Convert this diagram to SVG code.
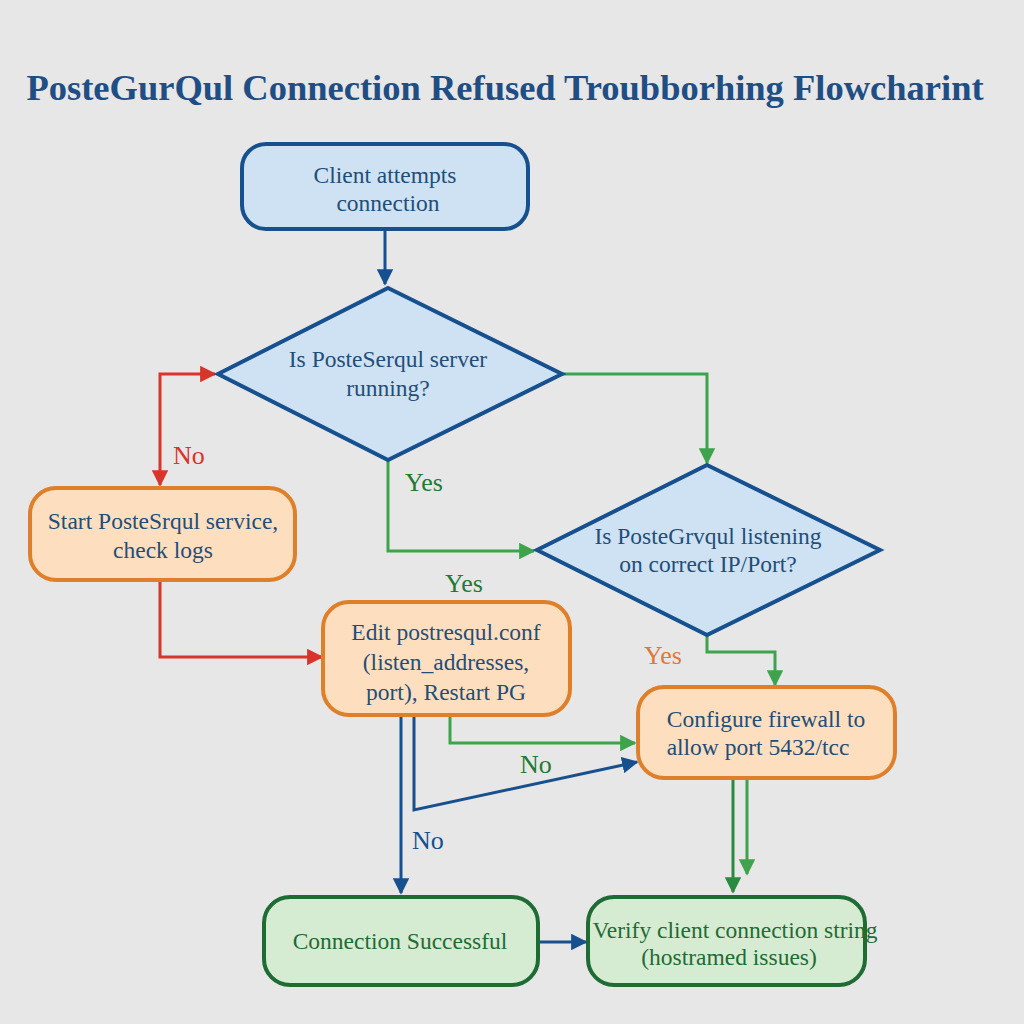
<svg xmlns="http://www.w3.org/2000/svg" width="1024" height="1024" viewBox="0 0 1024 1024">
<defs>
<style>
.t{font-family:"Liberation Serif","Times New Roman",serif;font-size:23.5px;text-anchor:middle;fill:#1f4e79}
.g{fill:#1e6b34}
.lbl{font-family:"Liberation Serif","Times New Roman",serif;font-size:26px}
.blueBox{fill:#cfe2f3;stroke:#16508e;stroke-width:4}
.orBox{fill:#fddfbf;stroke:#e07f2a;stroke-width:4}
.grBox{fill:#d6ecd2;stroke:#1e6b34;stroke-width:4}
.c{fill:none;stroke-width:3}
</style>
<marker id="aB" viewBox="0 0 10 10" refX="9" refY="5" markerWidth="5.5" markerHeight="5.5" orient="auto-start-reverse" markerUnits="strokeWidth"><path d="M0,0L10,5L0,10z" fill="#16508e"/></marker>
<marker id="aR" viewBox="0 0 10 10" refX="9" refY="5" markerWidth="5.5" markerHeight="5.5" orient="auto-start-reverse" markerUnits="strokeWidth"><path d="M0,0L10,5L0,10z" fill="#d9342b"/></marker>
<marker id="aG" viewBox="0 0 10 10" refX="9" refY="5" markerWidth="5.5" markerHeight="5.5" orient="auto-start-reverse" markerUnits="strokeWidth"><path d="M0,0L10,5L0,10z" fill="#3fa34d"/></marker>
<marker id="aDG" viewBox="0 0 10 10" refX="9" refY="5" markerWidth="5.5" markerHeight="5.5" orient="auto-start-reverse" markerUnits="strokeWidth"><path d="M0,0L10,5L0,10z" fill="#2a8a40"/></marker>
</defs>
<rect width="1024" height="1024" fill="#e7e7e7"/>
<text x="505" y="100" font-family="Liberation Serif, Times New Roman, serif" font-weight="bold" font-size="36.5" fill="#1f4e85" text-anchor="middle">PosteGurQul Connection Refused Troubborhing Flowcharint</text>

<g id="connectors">
<path class="c" d="M385,229V284" stroke="#16508e" marker-end="url(#aB)"/>
<path class="c" d="M215,374H160V485" stroke="#d9342b" marker-start="url(#aR)" marker-end="url(#aR)"/>
<path class="c" d="M160,580V657H322" stroke="#d9342b" marker-end="url(#aR)"/>
<path class="c" d="M388,460V551H534" stroke="#3fa34d" marker-end="url(#aG)"/>
<path class="c" d="M562,374H707V463" stroke="#3fa34d" marker-end="url(#aG)"/>
<path class="c" d="M707,635V652H775V685" stroke="#3fa34d" marker-end="url(#aG)"/>
<path class="c" d="M450,715V743H635" stroke="#3fa34d" marker-end="url(#aG)"/>
<path class="c" d="M414,715V810L637,762" stroke="#16508e" marker-end="url(#aB)"/>
<path class="c" d="M401,715V893" stroke="#16508e" marker-end="url(#aB)"/>
<path class="c" d="M733,778V892" stroke="#2a8a40" marker-end="url(#aDG)"/>
<path class="c" d="M747,778V874" stroke="#3fa34d" marker-end="url(#aG)"/>
<path class="c" d="M540,942H586" stroke="#16508e" marker-end="url(#aB)"/>
<text class="lbl" x="173" y="464" fill="#d9342b">No</text>
<text class="lbl" x="405" y="491" fill="#1e7a34">Yes</text>
<text class="lbl" x="445" y="592" fill="#1e7a34">Yes</text>
<text class="lbl" x="644" y="664" fill="#e0773a">Yes</text>
<text class="lbl" x="520" y="773" fill="#1e7a34">No</text>
<text class="lbl" x="412" y="849" fill="#16508e">No</text>
</g>

<g id="client">
<rect class="blueBox" x="242" y="144" width="286" height="85" rx="24"/>
<text class="t" x="385" y="183">Client attempts</text>
<text class="t" x="388" y="211">connection</text>
</g>
<g id="decision1">
<polygon class="blueBox" points="388,288 562,374 388,460 218,374"/>
<text class="t" x="388" y="367">Is PosteSerqul server</text>
<text class="t" x="388" y="396">running?</text>
</g>
<g id="start">
<rect class="orBox" x="30" y="488" width="265" height="92" rx="26"/>
<text class="t" x="163" y="529">Start PosteSrqul service,</text>
<text class="t" x="163" y="558">check logs</text>
</g>
<g id="decision2">
<polygon class="blueBox" points="707,465 880,550 707,635 537,550"/>
<text class="t" x="708" y="544">Is PosteGrvqul listening</text>
<text class="t" x="708" y="572">on correct IP/Port?</text>
</g>
<g id="edit">
<rect class="orBox" x="323" y="602" width="247" height="113" rx="26"/>
<text class="t" x="446" y="640">Edit postresqul.conf</text>
<text class="t" x="446" y="670">(listen_addresses,</text>
<text class="t" x="446" y="700">port), Restart PG</text>
</g>
<g id="firewall">
<rect class="orBox" x="638" y="687" width="257" height="91" rx="26"/>
<text class="t" x="766" y="727">Configure firewall to</text>
<text class="t" x="758" y="755">allow port 5432/tcc</text>
</g>
<g id="success">
<rect class="grBox" x="264" y="897" width="274" height="88" rx="26"/>
<text class="t g" x="400" y="949">Connection Successful</text>
</g>
<g id="verify">
<rect class="grBox" x="588" y="897" width="277" height="88" rx="26"/>
<text class="t g" x="735" y="938">Verify client connection string</text>
<text class="t g" x="729" y="965">(hostramed issues)</text>
</g>
</svg>
